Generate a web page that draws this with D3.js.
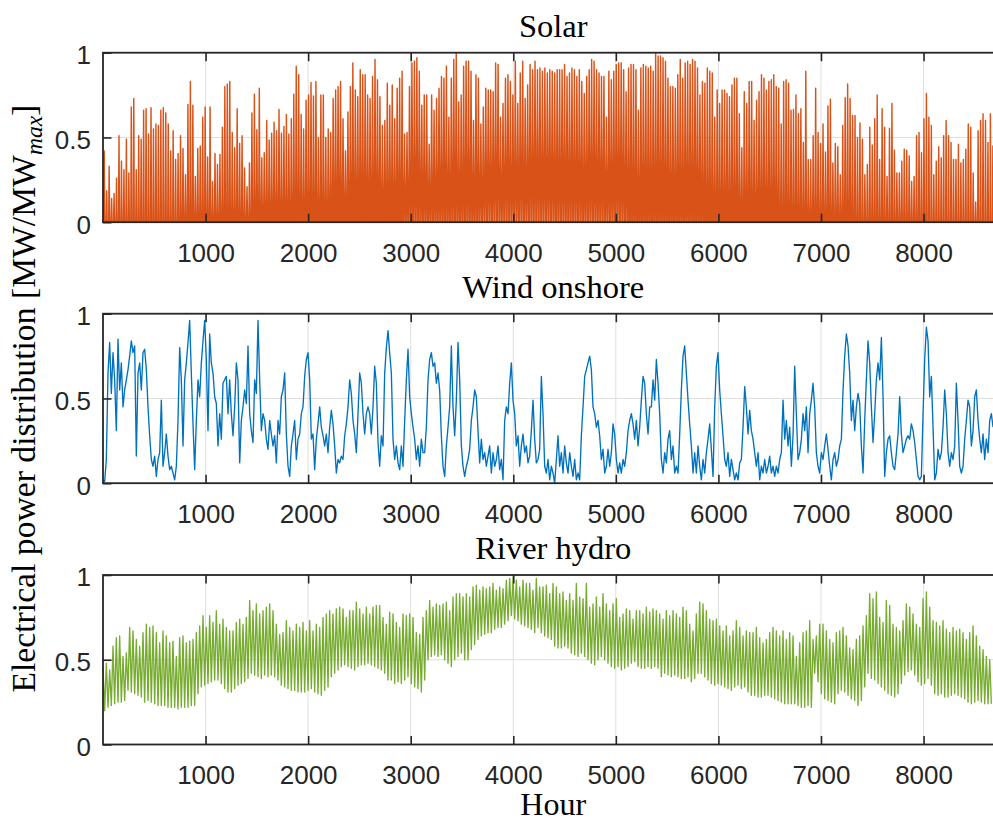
<!DOCTYPE html>
<html><head><meta charset="utf-8">
<script src="https://cdn.jsdelivr.net/npm/d3@7"></script>
<style>html,body{margin:0;padding:0;background:#fff;overflow:hidden}</style>
</head><body><svg id="chart" width="993" height="821"></svg>
<script>
// ---------------- DATA ----------------
const xTicks = [1000, 2000, 3000, 4000, 5000, 6000, 7000, 8000];
const yTicks = [0, 0.5, 1];
const panelTitles = ["Solar", "Wind onshore", "River hydro"];
const xLabel = "Hour";
const hoursInYear = 8760;

// Solar: daily peak capacity factor (one value per day)
const solarDailyPeak = [
0.42,0.185,0.33,0.14,0.17,0.26,0.51,0.36,0.31,0.49,
0.29,0.68,0.73,0.31,0.51,0.49,0.66,0.67,0.52,0.675,
0.55,0.58,0.57,0.66,0.675,0.645,0.58,0.42,0.54,0.37,
0.405,0.51,0.435,0.28,0.695,0.83,0.69,0.27,0.435,0.45,
0.62,0.68,0.385,0.68,0.24,0.405,0.34,0.40,0.56,0.80,
0.815,0.83,0.53,0.44,0.67,0.465,0.51,0.32,0.21,0.35,
0.645,0.755,0.545,0.79,0.38,0.41,0.60,0.485,0.525,0.59,
0.54,0.665,0.525,0.565,0.635,0.52,0.61,0.755,0.92,0.87,
0.635,0.55,0.72,0.75,0.825,0.745,0.83,0.50,0.75,0.75,
0.5,0.55,
0.53,0.73,0.78,0.8,0.83,0.61,0.42,0.65,0.8,0.94,
0.78,0.74,0.9,0.87,0.87,0.75,0.73,0.86,0.96,0.84,
0.74,0.57,0.6,0.82,0.69,0.81,0.61,0.79,0.85,0.89,
0.52,0.53,0.8,0.94,0.95,0.97,0.89,0.69,0.75,0.75,
0.46,0.75,0.66,0.73,0.79,0.86,0.85,0.92,0.62,0.85,
0.96,1.0,0.71,0.75,0.92,0.95,0.95,0.89,0.6,0.87,
0.85,0.58,0.68,0.79,0.78,0.78,0.77,0.94,0.93,0.62,
0.70,0.85,0.87,0.83,0.75,0.95,0.70,0.88,0.95,0.73,
0.81,0.93,0.90,0.95,0.9,0.91,0.89,0.91,0.88,
0.9,0.89,0.88,0.9,0.9,0.9,0.93,0.86,0.88,
0.91,0.9,0.86,0.9,0.83,0.76,0.86,0.9,0.96,0.95,
0.9,0.88,0.86,0.86,0.62,0.89,0.84,0.89,0.93,0.94,
0.94,0.9,0.77,0.91,0.93,0.93,0.9,0.66,0.91,0.93,
0.92,0.91,0.92,0.89,1.0,0.98,
0.98,0.97,0.95,0.85,0.8,0.8,0.79,0.87,0.96,0.85,
0.94,0.95,0.93,0.96,0.95,0.91,0.75,0.83,0.82,0.91,
0.89,0.88,0.62,0.78,0.70,0.78,0.78,0.76,0.74,0.81,
0.85,0.85,0.64,0.44,0.77,0.70,0.83,0.83,0.6,0.72,
0.77,0.87,0.85,0.78,0.83,0.84,0.87,0.8,0.79,0.58,
0.83,0.84,0.82,0.66,0.665,0.75,0.64,0.67,0.47,0.89,
0.37,0.37,0.51,0.79,0.53,0.465,0.58,0.415,0.685,0.725,
0.35,0.465,0.445,0.28,0.57,0.735,0.815,0.73,0.63,0.63,
0.5,0.585,0.49,0.28,0.34,0.56,0.455,0.61,0.75,0.37,
0.67,0.56,0.27,0.555,0.70,0.425,0.29,0.29,0.36,0.43,
0.425,0.39,0.24,0.27,0.51,0.53,0.41,0.61,0.76,0.62,
0.57,0.28,0.36,0.445,0.38,0.51,0.6,0.51,0.47,0.37,
0.37,0.46,0.35,0.37,0.43,0.58,0.56,0.29,0.12,0.54,
0.6,0.64,0.6,0.47,0.64,
0.45,0.3,0.5,0.42
];
// approximate hours of daylight per month (width of each daily solar hump)
const daylightHoursByMonth = [9.5, 11, 12.5, 14.5, 16, 17, 16.5, 15, 13, 11.5, 10, 9];

// Wind onshore: samples every windStepHours
const windStepHours = 16.25;
const windOnshore = [
0.02,0.01,0.14,0.65,0.83,0.53,0.77,0.61,
0.31,0.85,0.55,0.71,0.45,0.55,0.61,0.67,0.75,0.84,
0.77,0.81,0.16,0.65,0.71,0.55,0.77,0.79,0.67,0.45,
0.28,0.14,0.1,0.16,0.04,0.14,0.18,0.49,0.1,0.18,
0.29,0.16,0.08,0.1,0.06,0.02,0.1,0.37,0.8,0.61,
0.22,0.61,0.71,0.83,0.96,0.65,0.35,0.08,0.37,0.61,
0.51,0.71,0.84,0.96,0.73,0.31,0.88,0.71,0.65,0.51,
0.47,0.22,0.41,0.26,0.59,0.61,0.63,0.41,0.61,0.41,
0.28,0.45,0.71,0.61,0.12,0.37,0.45,0.55,0.47,0.81,
0.41,0.31,0.24,0.61,0.53,0.96,0.61,0.31,0.41,0.37,
0.26,0.2,0.37,0.29,0.22,0.28,0.12,0.37,0.29,0.51,
0.55,0.65,0.29,0.1,0.04,0.22,0.29,0.37,0.14,0.26,
0.29,0.41,0.45,0.63,0.73,0.77,0.61,0.26,0.29,0.08,
0.26,0.35,0.45,0.33,0.28,0.22,0.29,0.18,0.33,
0.43,0.35,0.22,0.06,0.14,0.12,0.16,0.14,0.28,0.35,
0.45,0.61,0.53,0.37,0.29,0.18,0.41,0.65,0.59,0.41,
0.29,0.41,0.45,0.41,0.29,0.45,0.69,0.59,0.24,0.1,
0.28,0.22,0.65,0.8,0.9,0.77,0.65,0.26,0.14,0.22,
0.12,0.08,0.22,0.1,0.37,0.61,0.79,0.51,0.41,0.33,
0.26,0.14,0.22,0.1,0.26,0.18,0.18,0.33,0.61,0.73,
0.77,0.69,0.71,0.59,0.65,0.55,0.28,0.1,0.04,0.22,
0.33,0.45,0.81,0.45,0.28,0.49,0.83,0.61,0.22,0.1,
0.04,0.1,0.14,0.2,0.37,0.45,0.55,0.51,0.31,0.12,
0.26,0.14,0.18,0.1,0.16,0.22,0.06,0.18,0.1,0.14,
0.22,0.08,0.14,0.02,0.37,0.45,0.41,0.59,0.71,0.49,
0.41,0.22,0.28,0.1,0.22,0.29,0.18,0.22,0.12,0.16,
0.31,0.49,0.26,0.12,0.14,0.2,0.63,0.41,0.1,0.06,
0.14,0.02,0.1,0.06,0.0,0.14,0.28,0.1,0.18,0.06,
0.22,0.12,0.06,0.18,0.1,0.04,0.14,0.02,0.06,0.02,
0.28,0.45,0.63,0.67,0.71,0.75,0.67,0.45,0.41,0.33,
0.37,0.28,0.14,0.2,0.06,0.1,0.2,0.1,0.18,0.35,
0.29,0.14,0.06,0.12,0.06,0.14,0.1,0.18,0.31,0.37,
0.41,0.35,0.26,0.37,0.22,0.33,0.49,0.63,0.59,0.41,
0.29,0.45,0.45,0.61,0.49,0.73,0.59,0.41,
0.14,0.06,0.18,0.12,0.26,0.31,0.14,0.22,0.06,0.1,
0.06,0.29,0.55,0.75,0.81,0.65,0.49,0.35,0.22,0.06,
0.18,0.06,0.22,0.1,0.02,0.14,0.06,0.18,0.26,0.35,
0.2,0.04,0.45,0.69,0.77,0.55,0.41,0.28,0.14,0.1,
0.18,0.04,0.14,0.08,0.02,0.06,0.02,0.12,0.14,0.33,
0.57,0.45,0.29,0.43,0.31,0.26,0.18,0.1,0.18,0.02,
0.1,0.06,0.14,0.06,0.1,0.16,0.06,0.1,0.04,0.1,
0.06,0.14,0.18,0.49,0.26,0.37,0.22,0.33,0.1,0.28,
0.69,0.41,0.14,0.18,0.26,0.41,0.31,0.45,0.18,0.41,
0.49,0.59,0.45,0.18,0.1,0.06,0.18,0.14,0.22,0.29,
0.2,0.1,0.02,0.14,0.18,0.1,0.14,0.22,0.26,0.55,
0.75,0.88,0.81,0.65,0.37,0.49,0.31,0.45,0.53,0.47,
0.22,0.06,0.37,0.61,0.84,0.71,0.45,0.24,0.41,0.61,
0.71,0.61,0.86,0.51,0.04,0.18,0.26,0.28,0.18,0.1,
0.08,0.18,0.29,0.51,0.29,0.18,0.22,0.26,0.28,0.26,
0.35,0.31,0.24,0.14,0.04,0.02,0.04,0.41,0.73,0.92,
0.84,0.51,0.63,0.33,0.02,0.06,0.2,0.14,0.18,0.33,
0.55,0.41,0.18,0.1,0.18,0.14,0.22,0.59,0.37,0.1,
0.06,0.1,0.26,0.37,0.49,0.45,0.22,0.31,0.51,0.55,
0.37,0.26,0.18,0.29,0.14,0.26,0.18,0.37,0.41,0.33
];

// River hydro: upper and lower values of the daily swing, every hydroStepHours
const hydroStepHours = 32.5;
const hydroHigh = [
0.46,0.48,0.44,0.58,0.63,0.64,0.52,0.54,0.69,0.67,
0.62,0.58,0.66,0.71,0.69,0.70,0.66,0.6,0.67,0.64,
0.6,0.61,0.52,0.63,0.64,0.6,0.61,0.62,0.66,0.7,
0.76,0.69,0.76,0.72,0.79,0.71,0.74,0.69,0.67,0.67,
0.72,0.74,0.71,0.75,0.85,0.79,0.83,0.77,0.79,0.81,
0.83,0.79,0.71,0.65,0.66,0.73,0.69,0.67,0.71,0.69,
0.72,0.67,0.73,0.67,0.71,0.69,0.75,0.77,
0.79,0.77,0.80,0.81,0.80,0.75,0.79,0.79,0.84,0.80,
0.77,0.81,0.77,0.81,0.82,0.82,0.75,0.71,0.78,0.77,
0.72,0.69,0.77,0.76,0.77,0.75,0.66,0.65,0.75,0.79,
0.85,0.81,0.83,0.82,0.83,0.84,0.79,0.87,0.89,0.89,
0.87,0.89,0.87,0.93,0.94,0.91,0.93,0.92,0.93,0.95,
0.91,0.93,0.92,0.97,0.98,0.99,0.97,0.93,0.97,0.95,
0.95,0.91,0.98,0.93,0.93,0.94,0.89,0.95,0.93,0.89,
0.90,0.85,0.89,0.85,0.95,0.87,0.86,0.95,0.81,0.83,
0.87,0.81,0.89,0.83,0.79,0.83,0.86,0.75,0.77,0.80,
0.79,0.74,0.79,0.79,0.77,0.81,0.78,0.80,0.79,
0.77,0.74,0.79,0.76,0.79,0.77,0.75,0.81,0.79,0.71,
0.67,0.77,0.84,0.83,0.79,0.74,0.73,0.74,0.70,0.67,
0.70,0.64,0.67,0.73,0.69,0.64,0.67,0.66,0.66,0.69,
0.63,0.6,0.62,0.66,0.69,0.67,0.64,0.67,0.62,0.66,
0.64,0.52,0.6,0.66,0.67,0.73,0.62,0.64,0.71,0.71,
0.67,0.62,0.6,0.66,0.67,0.69,0.64,0.57,0.56,0.62,
0.64,0.70,0.76,0.89,0.86,0.90,0.75,0.72,0.85,0.82,
0.71,0.69,0.67,0.73,0.83,0.81,0.77,0.71,0.69,0.86,
0.90,0.81,0.73,0.72,0.70,0.73,0.68,0.66,0.69,0.67,
0.68,0.66,0.62,0.66,0.70,0.64,0.58,0.56,0.52,0.5
];
const hydroLow = [
0.2,0.22,0.23,0.24,0.25,0.25,0.26,0.32,0.31,0.30,
0.29,0.28,0.25,0.26,0.25,0.24,0.23,0.23,0.23,0.22,
0.22,0.22,0.21,0.22,0.22,0.22,0.23,0.23,0.3,0.34,
0.35,0.36,0.37,0.38,0.38,0.36,0.33,0.31,0.31,0.33,
0.35,0.36,0.37,0.39,0.42,0.41,0.4,0.39,0.41,0.4,
0.41,0.4,0.38,0.35,0.34,0.33,0.32,0.32,0.31,0.31,
0.31,0.32,0.33,0.31,0.3,0.29,0.32,0.34,
0.4,0.42,0.44,0.46,0.47,0.46,0.45,0.44,0.46,0.47,
0.47,0.48,0.47,0.46,0.45,0.44,0.42,0.38,0.38,0.36,
0.37,0.36,0.38,0.4,0.36,0.34,0.33,0.31,0.38,0.5,
0.52,0.53,0.52,0.53,0.5,0.48,0.46,0.5,0.52,0.54,
0.5,0.5,0.56,0.59,0.62,0.64,0.65,0.66,0.66,0.68,
0.69,0.69,0.71,0.73,0.76,0.74,0.73,0.71,0.7,0.69,
0.68,0.66,0.69,0.66,0.64,0.63,0.62,0.58,0.57,0.57,
0.58,0.57,0.54,0.53,0.52,0.54,0.52,0.5,0.48,0.47,
0.5,0.52,0.5,0.48,0.46,0.45,0.46,0.44,0.45,0.46,
0.48,0.49,0.46,0.45,0.45,0.46,0.45,0.46,0.45,
0.4,0.42,0.41,0.4,0.41,0.4,0.39,0.39,0.4,0.37,
0.39,0.42,0.42,0.4,0.38,0.36,0.35,0.36,0.35,0.34,
0.33,0.32,0.34,0.35,0.33,0.34,0.31,0.29,0.29,0.28,
0.28,0.29,0.29,0.28,0.27,0.26,0.25,0.24,0.24,0.24,
0.24,0.23,0.22,0.22,0.23,0.22,0.42,0.37,0.3,0.27,
0.26,0.25,0.24,0.3,0.32,0.31,0.29,0.27,0.26,0.23,
0.26,0.34,0.42,0.39,0.38,0.36,0.34,0.32,0.3,0.29,
0.28,0.3,0.36,0.41,0.43,0.44,0.41,0.37,0.35,0.36,
0.39,0.35,0.3,0.29,0.3,0.28,0.28,0.29,0.3,0.29,
0.28,0.27,0.25,0.24,0.25,0.26,0.25,0.24,0.24,0.24
];

// ---------------- BUILD SERIES ----------------
const solarSeries = [];
solarDailyPeak.forEach((p, d) => {
  const L = daylightHoursByMonth[Math.min(11, Math.floor(d / 30.42))];
  solarSeries.push([d * 24 + 12 - L / 2, 0], [d * 24 + 12, p], [d * 24 + 12 + L / 2, 0]);
});
const windSeries = windOnshore.map((v, i) => [i * windStepHours, v]);
const hydroSeries = [];
hydroHigh.forEach((h, i) => {
  hydroSeries.push([i * hydroStepHours, h], [i * hydroStepHours + hydroStepHours / 2, hydroLow[i]]);
});

const panels = [
  { title: panelTitles[0], series: solarSeries, color: "#D95319", width: 1.45 },
  { title: panelTitles[1], series: windSeries, color: "#0072BD", width: 1.35 },
  { title: panelTitles[2], series: hydroSeries, color: "#77AC30", width: 1.35 }
];

// ---------------- LAYOUT ----------------
const svg = d3.select("#chart");
const left = 103, right = 1001.5, panelH = 169.5;
const tops = [52.7, 313.7, 575];
const axisColor = "#262626";
const gridColor = "#dfdfdf";
const tickFont = "'Liberation Sans', Arial, Helvetica, sans-serif";
const serifFont = "'Liberation Serif', 'Times New Roman', serif";

const x = d3.scaleLinear().domain([0, hoursInYear]).range([left, right]);

panels.forEach((p, k) => {
  const top = tops[k], bottom = top + panelH;
  const y = d3.scaleLinear().domain([0, 1]).range([bottom, top]);
  const g = svg.append("g");

  const clipId = "clip" + k;
  svg.append("clipPath").attr("id", clipId)
    .append("rect").attr("x", left).attr("y", top).attr("width", right - left).attr("height", panelH);

  // grid
  g.append("g").selectAll("line").data(xTicks).join("line")
    .attr("x1", d => x(d)).attr("x2", d => x(d)).attr("y1", top).attr("y2", bottom)
    .attr("stroke", gridColor).attr("stroke-width", 1);
  g.append("g").selectAll("line").data(yTicks).join("line")
    .attr("x1", left).attr("x2", right).attr("y1", d => y(d)).attr("y2", d => y(d))
    .attr("stroke", gridColor).attr("stroke-width", 1);

  // data
  const line = d3.line().x(d => x(d[0])).y(d => y(d[1]));
  g.append("path").attr("clip-path", `url(#${clipId})`)
    .attr("d", line(p.series)).attr("fill", "none")
    .attr("stroke", p.color).attr("stroke-width", p.width).attr("stroke-linejoin", "round");

  // axes
  const ax = d3.axisBottom(x).tickValues(xTicks).tickSizeInner(-8.5).tickSizeOuter(0).tickPadding(21.5)
    .tickFormat(d3.format("d"));
  g.append("g").attr("transform", `translate(0,${bottom})`).call(ax);
  const at = d3.axisTop(x).tickValues(xTicks).tickSizeInner(-8.5).tickSizeOuter(0).tickFormat("");
  g.append("g").attr("transform", `translate(0,${top})`).call(at);
  const ay = d3.axisLeft(y).tickValues(yTicks).tickSizeInner(-8.5).tickSizeOuter(0).tickPadding(12)
    .tickFormat(d => d3.format("~g")(d));
  const gl = g.append("g").attr("transform", `translate(${left},0)`).call(ay);
  const ar = d3.axisRight(y).tickValues(yTicks).tickSizeInner(-8.5).tickSizeOuter(0).tickFormat("");
  g.append("g").attr("transform", `translate(${right},0)`).call(ar);

  g.selectAll(".domain").remove();
  g.selectAll(".tick line").attr("stroke", axisColor).attr("stroke-width", 1.6);
  g.selectAll(".tick text").attr("fill", axisColor).style("font-family", tickFont).style("font-size", "26px");
  gl.selectAll(".tick text").attr("dy", "0.42em");

  // box
  g.append("rect").attr("x", left).attr("y", top).attr("width", right - left).attr("height", panelH)
    .attr("fill", "none").attr("stroke", axisColor).attr("stroke-width", 1.8);

  // title
  svg.append("text").attr("x", (left + right) / 2 + 1).attr("y", top - 16)
    .attr("text-anchor", "middle").attr("fill", "#000")
    .style("font-family", serifFont).style("font-size", "32.5px").text(p.title);
});

// x label
svg.append("text").attr("x", (left + right) / 2 + 1).attr("y", 815)
  .attr("text-anchor", "middle").attr("fill", "#000")
  .style("font-family", serifFont).style("font-size", "32px").text(xLabel);

// y label (sized to span the same length as in the reference)
const yCenter = (tops[0] + tops[2] + panelH) / 2;
const yl = svg.append("text")
  .attr("transform", `translate(35,${yCenter}) rotate(-90)`)
  .attr("text-anchor", "middle").attr("fill", "#000")
  .style("font-family", serifFont).style("font-size", "30px");
yl.append("tspan").text("Electrical power distribution [MW/MW");
const sub = yl.append("tspan").attr("dy", 6).style("font-size", "0.7em").style("font-style", "italic").text("max");
yl.append("tspan").attr("dy", -6).text("]");
const labelLen = yl.node().getComputedTextLength();
const targetLen = 588;
if (labelLen > 0) {
  const fs = Math.min(36, 30 * targetLen / labelLen);
  yl.style("font-size", fs + "px");
  sub.attr("dy", fs * 0.2);
  yl.select("tspan:last-child").attr("dy", -fs * 0.2);
}
</script>
</body></html>
